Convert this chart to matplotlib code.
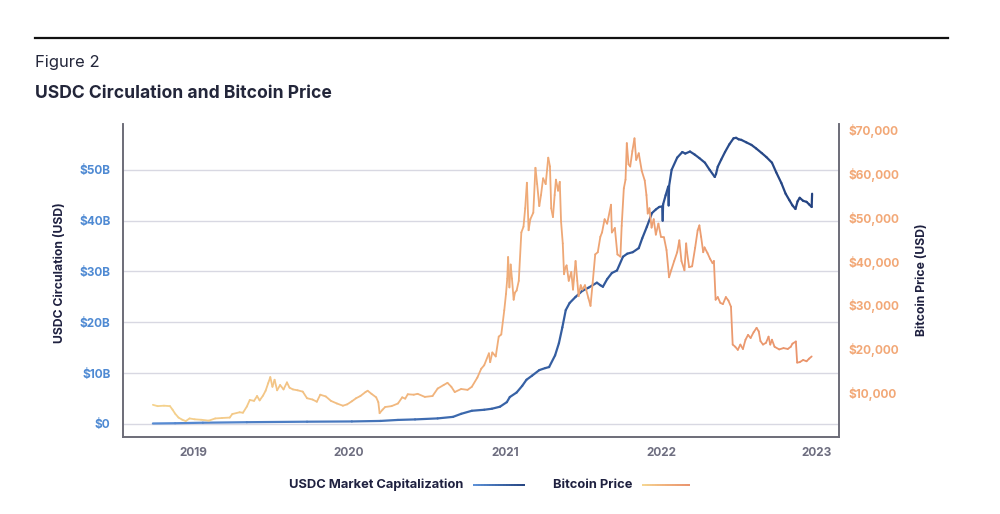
import numpy as np
import pandas as pd
import matplotlib
matplotlib.use('Agg')
import matplotlib.pyplot as plt
import matplotlib.dates as mdates
from matplotlib.collections import LineCollection
from matplotlib.colors import LinearSegmentedColormap

# USDC circulation, billions of USD
usdc_dates = ['2018-09-29', '2018-11-20', '2019-01-24', '2019-05-07', '2019-09-25',
              '2020-01-08', '2020-03-15', '2020-04-25', '2020-06-04', '2020-07-27',
              '2020-09-01', '2020-09-20', '2020-10-15', '2020-11-13', '2020-12-01',
              '2020-12-20', '2021-01-05', '2021-01-12', '2021-01-28', '2021-02-10',
              '2021-02-20', '2021-03-05', '2021-03-22', '2021-04-05', '2021-04-14',
              '2021-04-28', '2021-05-07', '2021-05-15', '2021-05-23', '2021-06-01',
              '2021-06-15', '2021-07-01', '2021-07-15', '2021-08-04', '2021-08-12',
              '2021-08-18', '2021-08-28', '2021-09-08', '2021-09-20', '2021-10-04',
              '2021-10-14', '2021-10-27', '2021-11-10', '2021-11-18', '2021-11-29',
              '2021-12-11', '2021-12-20', '2021-12-28', '2022-01-04', '2022-01-05',
              '2022-01-06', '2022-01-12', '2022-01-18', '2022-01-19', '2022-01-20',
              '2022-01-26', '2022-02-08', '2022-02-20', '2022-02-27', '2022-03-10',
              '2022-03-21', '2022-04-01', '2022-04-14', '2022-04-25', '2022-05-07',
              '2022-05-10', '2022-05-14', '2022-05-22', '2022-05-31', '2022-06-10',
              '2022-06-20', '2022-06-26', '2022-07-02', '2022-07-08', '2022-07-20',
              '2022-08-01', '2022-08-12', '2022-08-25', '2022-09-05', '2022-09-18',
              '2022-09-28', '2022-10-10', '2022-10-20', '2022-10-29', '2022-11-05',
              '2022-11-12', '2022-11-17', '2022-11-22', '2022-11-30', '2022-12-08',
              '2022-12-14', '2022-12-20', '2022-12-21']
usdc_values = [0.1, 0.15, 0.25, 0.35, 0.45,
               0.5, 0.6, 0.8, 0.9, 1.1,
               1.4, 2.0, 2.6, 2.8, 3.0,
               3.4, 4.3, 5.3, 6.2, 7.5,
               8.7, 9.5, 10.6, 11.0, 11.2,
               13.5, 15.9, 19.0, 22.4, 23.8,
               25.0, 26.2, 26.8, 27.8, 27.3,
               27.0, 28.5, 29.7, 30.2, 32.9,
               33.5, 33.8, 34.6, 36.5, 38.8,
               41.5, 42.2, 42.7, 42.8, 40.0,
               43.2, 45.0, 46.7, 43.0, 46.8,
               50.0, 52.4, 53.5, 53.2, 53.6,
               53.0, 52.3, 51.4, 50.0, 48.6,
               49.2, 50.6, 52.0, 53.5, 55.0,
               56.2, 56.3, 56.0, 55.9, 55.4,
               54.9, 54.2, 53.3, 52.5, 51.4,
               49.5, 47.4, 45.3, 44.0, 43.0,
               42.3, 43.8, 44.5, 43.9, 43.7,
               43.2, 42.7, 45.3]

# Bitcoin price, thousands of USD
btc_dates = ['2018-09-29', '2018-10-10', '2018-10-25', '2018-11-08', '2018-11-14',
             '2018-11-20', '2018-11-28', '2018-12-07', '2018-12-15', '2018-12-24',
             '2019-01-05', '2019-01-20', '2019-02-07', '2019-02-22', '2019-03-10',
             '2019-03-28', '2019-04-03', '2019-04-20', '2019-04-28', '2019-05-07',
             '2019-05-14', '2019-05-24', '2019-05-31', '2019-06-06', '2019-06-14',
             '2019-06-20', '2019-06-26', '2019-07-01', '2019-07-06', '2019-07-11',
             '2019-07-17', '2019-07-24', '2019-08-01', '2019-08-09', '2019-08-15',
             '2019-08-23', '2019-09-03', '2019-09-15', '2019-09-25', '2019-10-08',
             '2019-10-18', '2019-10-26', '2019-11-08', '2019-11-20', '2019-12-04',
             '2019-12-18', '2019-12-28', '2020-01-08', '2020-01-18', '2020-01-28',
             '2020-02-09', '2020-02-14', '2020-02-23', '2020-03-05', '2020-03-10',
             '2020-03-13', '2020-03-20', '2020-03-26', '2020-04-10', '2020-04-25',
             '2020-05-05', '2020-05-12', '2020-05-18', '2020-06-01', '2020-06-10',
             '2020-06-27', '2020-07-15', '2020-07-27', '2020-08-10', '2020-08-19',
             '2020-08-28', '2020-09-05', '2020-09-20', '2020-10-05', '2020-10-15',
             '2020-10-28', '2020-11-06', '2020-11-13', '2020-11-24', '2020-11-27',
             '2020-12-02', '2020-12-10', '2020-12-17', '2020-12-23', '2020-12-30',
             '2021-01-03', '2021-01-06', '2021-01-08', '2021-01-11', '2021-01-14',
             '2021-01-17', '2021-01-21', '2021-01-24', '2021-01-28', '2021-02-02',
             '2021-02-08', '2021-02-13', '2021-02-17', '2021-02-21', '2021-02-25',
             '2021-03-01', '2021-03-08', '2021-03-13', '2021-03-17', '2021-03-22',
             '2021-03-26', '2021-03-31', '2021-04-06', '2021-04-12', '2021-04-16',
             '2021-04-19', '2021-04-23', '2021-04-27', '2021-04-30', '2021-05-05',
             '2021-05-09', '2021-05-12', '2021-05-16', '2021-05-19', '2021-05-22',
             '2021-05-25', '2021-05-30', '2021-06-05', '2021-06-09', '2021-06-15',
             '2021-06-19', '2021-06-22', '2021-06-27', '2021-07-01', '2021-07-07',
             '2021-07-15', '2021-07-20', '2021-07-25', '2021-07-31', '2021-08-06',
             '2021-08-12', '2021-08-16', '2021-08-22', '2021-08-28', '2021-09-06',
             '2021-09-08', '2021-09-15', '2021-09-21', '2021-09-28', '2021-10-01',
             '2021-10-06', '2021-10-10', '2021-10-13', '2021-10-17', '2021-10-21',
             '2021-10-26', '2021-10-31', '2021-11-04', '2021-11-10', '2021-11-17',
             '2021-11-24', '2021-11-28', '2021-12-01', '2021-12-05', '2021-12-10',
             '2021-12-15', '2021-12-20', '2021-12-26', '2022-01-01', '2022-01-08',
             '2022-01-14', '2022-01-20', '2022-01-25', '2022-02-01', '2022-02-08',
             '2022-02-13', '2022-02-18', '2022-02-25', '2022-03-01', '2022-03-03',
             '2022-03-08', '2022-03-15', '2022-03-22', '2022-03-28', '2022-04-01',
             '2022-04-05', '2022-04-10', '2022-04-13', '2022-04-20', '2022-04-26',
             '2022-05-02', '2022-05-05', '2022-05-09', '2022-05-14', '2022-05-20',
             '2022-05-26', '2022-06-02', '2022-06-08', '2022-06-14', '2022-06-18',
             '2022-06-24', '2022-06-30', '2022-07-06', '2022-07-12', '2022-07-18',
             '2022-07-24', '2022-07-30', '2022-08-06', '2022-08-13', '2022-08-18',
             '2022-08-22', '2022-08-28', '2022-09-04', '2022-09-10', '2022-09-14',
             '2022-09-18', '2022-09-24', '2022-10-05', '2022-10-15', '2022-10-25',
             '2022-11-01', '2022-11-05', '2022-11-13', '2022-11-16', '2022-11-22',
             '2022-11-30', '2022-12-08', '2022-12-14', '2022-12-20']
btc_values = [7.3, 7.0, 7.1, 7.0, 6.2,
              5.3, 4.4, 3.9, 3.6, 4.2,
              4.0, 3.9, 3.7, 4.2, 4.3,
              4.4, 5.2, 5.6, 5.5, 6.9,
              8.4, 8.2, 9.3, 8.3, 9.4,
              10.5, 12.2, 13.6, 11.4, 13.0,
              10.6, 11.8, 10.8, 12.4, 11.2,
              10.8, 10.6, 10.3, 8.8, 8.5,
              8.0, 9.6, 9.2, 8.2, 7.6,
              7.1, 7.4, 8.1, 8.8, 9.3,
              10.2, 10.5, 9.8, 9.0, 7.9,
              5.4, 6.2, 6.8, 7.0, 7.6,
              9.0, 8.7, 9.7, 9.6, 9.8,
              9.1, 9.3, 11.0, 11.8, 12.3,
              11.4, 10.2, 10.9, 10.7, 11.4,
              13.5, 15.5, 16.3, 19.0, 17.0,
              19.2, 18.3, 22.8, 23.3, 28.8,
              32.5, 36.0, 40.9, 34.0, 39.2,
              36.0, 31.2, 32.8, 33.3, 35.5,
              46.5, 47.8, 52.0, 57.8, 47.0,
              49.5, 51.0, 61.2, 57.5, 52.5,
              55.0, 58.8, 57.5, 63.5, 61.5,
              52.0, 50.0, 55.0, 58.5, 56.0,
              58.0, 49.0, 44.0, 37.0, 38.5,
              39.0, 35.5, 37.5, 33.5, 40.0,
              35.5, 32.0, 34.5, 33.5, 34.5,
              31.6, 29.8, 35.0, 41.5, 42.0,
              45.5, 46.5, 49.5, 48.5, 52.8,
              46.5, 47.5, 41.5, 41.0, 48.0,
              56.5, 58.5, 66.8, 62.0, 61.5,
              65.0, 67.9, 63.0, 64.5, 60.5,
              58.3, 55.0, 50.8, 52.0, 47.6,
              49.5, 46.0, 48.5, 45.5, 45.4,
              42.5, 36.3, 37.9, 40.0, 42.0,
              44.7, 40.0, 37.9, 44.0, 42.0,
              38.6, 38.8, 43.0, 47.0, 48.1,
              45.5, 42.0, 43.1, 41.8, 40.5,
              39.5, 40.0, 31.2, 31.8, 30.5,
              30.2, 31.8, 31.0, 29.6, 21.0,
              20.5, 19.8, 21.0, 20.0, 22.1,
              23.2, 22.5, 23.8, 24.8, 24.0,
              21.8, 21.0, 21.4, 22.8, 21.0,
              22.1, 20.5, 19.9, 20.2, 20.0,
              20.5, 21.2, 21.7, 16.9, 17.0,
              17.5, 17.2, 17.8, 18.3]

year_ticks = ['2019', '2020', '2021', '2022', '2023']

plt.rcParams['font.family'] = ['Inter', 'DejaVu Sans']

usdc_cmap = LinearSegmentedColormap.from_list('usdc', ['#5B90D8', '#3A66AA', '#22407E'])
btc_cmap = LinearSegmentedColormap.from_list('btc', ['#F5D690', '#F0AE79', '#E9926B'])

xmin = mdates.date2num(pd.Timestamp('2018-07-21'))
xmax = mdates.date2num(pd.Timestamp('2023-02-22'))


def gradient_line(ax, x, y, cmap, lw, **kw):
    pts = np.column_stack([x, y]).reshape(-1, 1, 2)
    segs = np.concatenate([pts[:-1], pts[1:]], axis=1)
    lc = LineCollection(segs, cmap=cmap, norm=plt.Normalize(xmin, xmax),
                        linewidth=lw, capstyle='round', joinstyle='round', **kw)
    lc.set_array((x[:-1] + x[1:]) / 2)
    ax.add_collection(lc)
    return lc


fig = plt.figure(figsize=(10, 5.14), dpi=100)
ax = fig.add_axes([0.123, 0.1498, 0.716, 0.6093])
ax2 = ax.twinx()

ux = mdates.date2num(pd.to_datetime(usdc_dates))
bx = mdates.date2num(pd.to_datetime(btc_dates))
gradient_line(ax, ux, np.array(usdc_values), usdc_cmap, 1.6)
gradient_line(ax2, bx, np.array(btc_values) * 1000, btc_cmap, 1.3)

ax.set_xlim(xmin, xmax)
ax.set_ylim(-2.56, 59.05)
ax2.set_ylim(-20, 71200)

ax.set_yticks([0, 10, 20, 30, 40, 50])
ax.set_yticklabels(['$0', '$10B', '$20B', '$30B', '$40B', '$50B'])
ax2.set_yticks([10000, 20000, 30000, 40000, 50000, 60000, 70000])
ax2.set_yticklabels(['${:,}'.format(v) for v in range(10000, 70001, 10000)])
ax.set_xticks(mdates.date2num(pd.to_datetime([y + '-01-01' for y in year_ticks])))
ax.set_xticklabels(year_ticks)

ax.grid(axis='y', color='#D8D8E2', linewidth=1.0)
ax.set_axisbelow(True)
for a in (ax, ax2):
    a.spines['top'].set_visible(False)
    for s in ('left', 'right', 'bottom'):
        a.spines[s].set_color('#6C6C78')
        a.spines[s].set_linewidth(1.2)
    a.tick_params(length=0)

ax.tick_params(axis='y', pad=9, labelsize=8.5, labelcolor='#4F8AD3')
ax.tick_params(axis='x', pad=7, labelsize=8.5, labelcolor='#6E6E80')
ax2.tick_params(axis='y', pad=7, labelsize=8.5, labelcolor='#F2A877')
for lab in ax.get_yticklabels() + ax.get_xticklabels() + ax2.get_yticklabels():
    lab.set_fontweight('bold')

fig.text(0.060, 1 - 273 / 514, 'USDC Circulation (USD)', rotation=90, ha='center', va='center',
         fontsize=8.8, fontweight='bold', color='#1F2140')
fig.text(0.922, 1 - 280 / 514, 'Bitcoin Price (USD)', rotation=90, ha='center', va='center',
         fontsize=8.8, fontweight='bold', color='#1F2140')

# header
fig.add_artist(plt.Line2D([0.035, 0.948], [1 - 38 / 514] * 2, color='#111111', linewidth=1.6))
fig.text(0.035, 1 - 63 / 514, 'Figure 2', fontsize=12, color='#23263A', va='center')
fig.text(0.035, 1 - 94 / 514, 'USDC Circulation and Bitcoin Price', fontsize=12.6,
         fontweight='bold', color='#23263A', va='center')

# legend
ly = 1 - 485 / 514
fig.text(0.463, ly, 'USDC Market Capitalization', ha='right', va='center',
         fontsize=9.3, fontweight='bold', color='#1F2140')
fig.text(0.632, ly, 'Bitcoin Price', ha='right', va='center',
         fontsize=9.3, fontweight='bold', color='#1F2140')
for x0, x1, cmap in [(0.473, 0.525, usdc_cmap), (0.642, 0.690, btc_cmap)]:
    lx = np.linspace(x0, x1, 20)
    pts = np.column_stack([lx, np.full_like(lx, ly)]).reshape(-1, 1, 2)
    segs = np.concatenate([pts[:-1], pts[1:]], axis=1)
    lc = LineCollection(segs, cmap=cmap, norm=plt.Normalize(x0, x1),
                        linewidth=1.4, transform=fig.transFigure)
    lc.set_array((lx[:-1] + lx[1:]) / 2)
    fig.add_artist(lc)

fig.savefig('out.png', dpi=100, facecolor='white')
